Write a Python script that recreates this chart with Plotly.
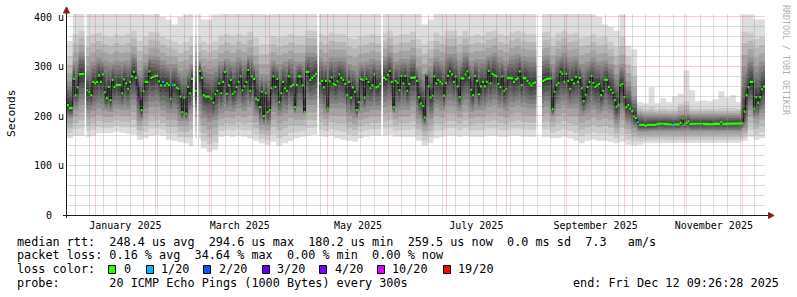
import numpy as np
import pandas as pd
import plotly.graph_objects as go

# ---------------- data ----------------
END = pd.Timestamp("2025-12-12 09:26:28")
START = END - pd.Timedelta(days=360)

# daily median rtt in microseconds (None = no data)
median_us = [
    222, 216, 216, 275, 242, 258, 284, 285, 285, None,
    252, 248, 242, 269, 266, 269, 282, 269, 284, 248,
    236, 259, 232, 273, 259, 263, 263, 263, 246, 274,
    266, 255, 269, 280, 289, 277, 260, 235, 212, 250,
    269, 269, 290, 277, 279, 281, 281, 270, 262, 269,
    262, 266, 263, 235, 263, 263, 257, 255, 239, 208,
    237, 205, 259, 246, 275, None, 251, None, 291, 277,
    242, 239, 239, 239, 235, 227, 244, 251, 266, 246,
    269, 289, 245, 262, 273, 245, 249, 259, 269, 280,
    252, 260, 269, 293, 251, 280, 275, 235, 232, 218,
    249, 200, 246, 208, 212, 256, 280, 259, 275, 228,
    246, 269, 256, 251, 280, 260, 263, 218, 263, 280,
    280, 262, 208, 289, 289, 273, 277, 281, 285, None,
    266, 271, 258, 271, 215, 270, 278, 265, 263, 270,
    284, 277, 273, 265, 243, 269, 237, 258, 249, 212,
    228, 275, 273, 237, 275, 269, 256, 262, 284, 258,
    260, 265, None, 277, 274, 283, 291, 269, 218, 271,
    267, 252, 281, 266, 281, 251, 265, 277, 278, 278,
    271, 238, 225, 220, 197, 284, 260, 237, 241, 280,
    266, 273, 269, 265, 241, 267, 281, 290, 284, 269,
    280, 260, 238, 276, 276, 284, 290, 277, 253, 242,
    281, 271, 244, 260, 269, 260, 269, 291, 266, 285,
    282, 280, 265, 259, 280, 251, 255, 277, 277, 276,
    269, 274, 276, 290, 263, 277, 276, 271, 266, 262,
    266, 268, None, None, None, 271, 273, 275, 276, 276,
    214, 249, 263, 267, 289, 285, 269, 285, 271, 255,
    273, 266, 279, 269, 277, 256, 230, 243, 259, 269,
    281, 267, 259, 262, 265, 242, 251, 274, 273, 259,
    253, 247, 232, 219, 223, 262, 265, 238, 218, 222,
    215, 210, 199, 196, 187, 182, 183, 182, 180, 182,
    183, 183, 182, 182, 184, 185, 184, 185, 184, 184,
    183, 183, 182, 183, 183, 183, 186, 195, 183, 186,
    189, 184, 184, 185, 184, 184, 184, 185, 184, 184,
    184, 183, 184, 184, 185, 184, 184, 188, 184, 184,
    185, 184, 184, 184, 184, 184, 184, 184, 185, 209,
    242, 258, 269, 269, 215, 238, 227, 238, 254, 259.5,
]

# days with packet loss, and lost pings out of 20
loss_day = [36, 37, 49, 54, 294, 312]
loss_of_20 = [3, 10, 1, 1, 1, 1]

# smoke (ping spread) per 3-day block, microseconds
smoke_min = [
    155, 160, 160, 158, 160, 165, 165, 165, 168, 166,
    164, 162, 152, 155, 160, 162, 160, 152, 150, 147,
    145, 140, 155, 135, 128, 132, 158, 160, 158, 160,
    158, 155, 150, 145, 142, 148, 140, 145, 150, 155,
    158, 160, 162, 160, 158, 160, 155, 152, 150, 148,
    155, 158, 160, 160, 160, 162, 158, 158, 158, 158,
    150, 140, 145, 155, 158, 160, 160, 158, 160, 158,
    158, 158, 160, 160, 158, 158, 160, 160, 158, 158,
    158, 158, 158, 155, 155, 158, 155, 150, 145, 150,
    152, 150, 150, 148, 145, 148, 142, 140, 142, 145,
    146, 146, 146, 146, 146, 146, 145, 146, 146, 146,
    146, 146, 146, 146, 146, 146, 150, 158, 152, 155,
]
smoke_p25 = [
    195, 212, 222, 205, 210, 215, 210, 208, 215, 212,
    212, 222, 190, 205, 218, 220, 212, 205, 205, 190,
    190, 205, 210, 195, 188, 192, 205, 210, 208, 215,
    210, 218, 200, 182, 180, 208, 200, 205, 212, 205,
    205, 222, 222, 215, 205, 215, 215, 215, 200, 195,
    205, 208, 212, 212, 218, 222, 205, 212, 212, 220,
    195, 180, 195, 215, 210, 220, 220, 210, 222, 208,
    212, 212, 218, 222, 215, 210, 218, 222, 218, 215,
    215, 215, 220, 200, 215, 222, 215, 215, 200, 205,
    212, 205, 210, 205, 185, 205, 185, 175, 168, 168,
    169, 169, 169, 169, 169, 169, 170, 169, 169, 169,
    169, 169, 169, 169, 169, 169, 175, 212, 195, 205,
]
smoke_p75 = [
    270, 310, 330, 300, 310, 318, 312, 308, 312, 310,
    312, 325, 292, 308, 322, 320, 312, 305, 305, 292,
    295, 305, 312, 300, 295, 298, 310, 315, 310, 318,
    312, 322, 305, 285, 285, 312, 305, 310, 315, 310,
    310, 328, 328, 318, 310, 318, 318, 318, 305, 300,
    308, 310, 315, 312, 320, 328, 310, 315, 315, 322,
    300, 285, 300, 318, 312, 325, 325, 312, 328, 312,
    315, 315, 322, 328, 318, 312, 322, 325, 320, 318,
    318, 320, 322, 305, 320, 328, 318, 320, 305, 310,
    318, 310, 312, 305, 285, 305, 270, 240, 205, 202,
    202, 201, 202, 201, 201, 203, 205, 202, 202, 202,
    202, 202, 202, 202, 202, 202, 300, 318, 300, 310,
]
smoke_p95 = [
    320, 365, 372, 360, 365, 368, 362, 360, 365, 362,
    365, 372, 352, 360, 370, 368, 360, 355, 350, 345,
    350, 360, 362, 350, 345, 350, 362, 365, 362, 365,
    362, 370, 358, 345, 345, 362, 358, 360, 365, 362,
    362, 372, 372, 365, 362, 368, 365, 365, 358, 355,
    360, 362, 365, 362, 368, 372, 362, 365, 365, 370,
    355, 345, 352, 368, 362, 372, 372, 362, 372, 362,
    365, 362, 370, 372, 365, 362, 368, 372, 368, 365,
    365, 368, 370, 358, 368, 372, 365, 368, 358, 360,
    365, 358, 360, 350, 340, 360, 320, 300, 218, 215,
    218, 214, 216, 214, 215, 225, 230, 215, 214, 214,
    214, 214, 216, 215, 216, 214, 370, 368, 355, 360,
]
smoke_max = [
    352, 420, 420, 415, 420, 420, 418, 415, 420, 420,
    420, 420, 412, 405, 405, 410, 400, 395, 385, 400,
    405, 410, 405, 395, 395, 405, 420, 420, 420, 420,
    420, 420, 415, 410, 405, 415, 410, 415, 420, 420,
    420, 420, 420, 420, 420, 420, 415, 415, 410, 410,
    415, 420, 420, 420, 420, 420, 420, 420, 420, 420,
    410, 385, 395, 420, 420, 420, 420, 420, 420, 420,
    420, 420, 420, 420, 420, 420, 420, 420, 420, 420,
    420, 420, 420, 420, 420, 420, 420, 420, 415, 410,
    405, 400, 385, 380, 372, 405, 342, 335, 228, 226,
    258, 226, 236, 228, 240, 245, 292, 252, 230, 232,
    230, 234, 250, 238, 242, 228, 405, 405, 395, 395,
]

loss_steps = [0, 1, 2, 3, 4, 10, 19]
loss_labels = ["0", "1/20", "2/20", "3/20", "4/20", "10/20", "19/20"]
loss_colors = ["#26ff00", "#00b8ff", "#0059ff", "#5e00ff", "#7e00ff", "#dd00ff", "#ff0000"]

y_tick_vals = [0, 100, 200, 300, 400]
y_tick_text = ["0\u00a0\u00a0", "100 u", "200 u", "300 u", "400 u"]
x_tick_months = ["2025-01", "2025-03", "2025-05", "2025-07", "2025-09", "2025-11"]
x_tick_text = ["January 2025", "March 2025", "May 2025", "July 2025",
               "September 2025", "November 2025"]

legend_line1 = "median rtt:  248.4 us avg  294.6 us max  180.2 us min  259.5 us now  0.0 ms sd  7.3   am/s"
legend_line2 = "packet loss: 0.16 % avg  34.64 % max  0.00 % min  0.00 % now"
legend_line4 = "probe:       20 ICMP Echo Pings (1000 Bytes) every 300s"
legend_end = "end: Fri Dec 12 09:26:28 2025"
legend_box_x = [108, 146, 203, 262, 319, 377, 443]
legend_lab_x = [123, 160, 218, 276, 334, 391, 457]

# ---------------- layout geometry ----------------
W, H = 797, 297
L, R, T, B = 67, 32, 14, 82
PW, PH = W - L - R, H - T - B
Y_MAX = 406.06
FONT = "DejaVu Sans Mono"
LEG_SIZE = 11.8


def px(x):
    return (x - L) / PW


def py(y):
    return (H - B - y) / PH


def tpix(ts):
    return L + (ts - START) / (END - START) * PW


def vpix(v):
    return (H - B) - v / Y_MAX * PH


# ---------------- derived drawing data ----------------
n = len(median_us)
t = [START + pd.Timedelta(days=d) for d in range(n + 1)]
med = np.array([np.nan if v is None else v for v in median_us], float)
valid = ~np.isnan(med)

loss = np.zeros(n, int)
for d, c in zip(loss_day, loss_of_20):
    loss[d] = c
col_idx = np.array([max(i for i, s in enumerate(loss_steps) if s <= c) for c in loss])

ranks = [1, 5, 10.5, 16, 19, 20]
pings = np.full((n, 20), np.nan)
for d in range(n):
    if not valid[d]:
        continue
    b = d // 3
    m = med[d]
    a25 = min(smoke_p25[b], m - 4)
    a0 = min(smoke_min[b], a25 - 4)
    a75 = max(smoke_p75[b], m + 4)
    a95 = max(smoke_p95[b], a75 + 3)
    a100 = max(smoke_max[b], a95 + 3)
    pings[d] = np.interp(np.arange(1, 21), ranks, [a0, a25, m, a75, a95, a100])
pings = np.minimum(pings, Y_MAX + 10)

runs = []
d = 0
while d < n:
    if valid[d]:
        e = d
        while e + 1 < n and valid[e + 1]:
            e += 1
        runs.append((d, e))
        d = e + 1
    else:
        d += 1


def band(lower, upper, run_list):
    xs, ys = [], []
    for a, b in run_list:
        for k in range(a, b + 1):
            xs += [t[k], t[k + 1]]
            ys += [upper[k], upper[k]]
        for k in range(b, a - 1, -1):
            xs += [t[k + 1], t[k]]
            ys += [lower[k], lower[k]]
        xs.append(None)
        ys.append(None)
    return xs, ys


fig = go.Figure()

# smoke layers (outer = light, inner = dark)
for k in range(1, 11):
    g = int(190 / 10 * (10 - k)) + 50
    xs, ys = band(pings[:, k - 1], pings[:, 20 - k], runs)
    fig.add_trace(go.Scatter(x=xs, y=ys, mode="lines", fill="toself",
                             fillcolor="#%02x%02x%02x" % (g, g, g),
                             line=dict(width=0), hoverinfo="skip", showlegend=False))

# dark connecting step line of the median
sx, sy = [], []
for a, b in runs:
    for k in range(a, b + 1):
        sx += [t[k], t[k + 1]]
        sy += [med[k], med[k]]
    sx.append(None)
    sy.append(None)
fig.add_trace(go.Scatter(x=sx, y=sy, mode="lines", line=dict(color="#1a1a1a", width=1),
                         hoverinfo="skip", showlegend=False))

# median band coloured by loss
half = 2.2
for ci, colr in enumerate(loss_colors):
    crun = []
    for a, b in runs:
        k = a
        while k <= b:
            if col_idx[k] == ci:
                e = k
                while e + 1 <= b and col_idx[e + 1] == ci:
                    e += 1
                crun.append((k, e))
                k = e + 1
            else:
                k += 1
    if not crun:
        continue
    xs, ys = band(med - half, med + half, crun)
    fig.add_trace(go.Scatter(x=xs, y=ys, mode="lines", fill="toself", fillcolor=colr,
                             line=dict(width=0), hoverinfo="skip", showlegend=False))

# ---------------- grid (drawn on top, as rrdtool does) ----------------
shapes = []
GRID = "rgba(143,143,143,0.30)"
MGRID = "rgba(222,79,79,0.27)"
month_starts = pd.date_range("2025-01-01", END, freq="MS")
month_px = [round(tpix(m) - 0.5) + 0.5 for m in month_starts]
weeks = pd.date_range(START.normalize(), END, freq="W-SUN")
for wk in weeks:
    if wk <= START:
        continue
    xp = round(tpix(wk) - 0.5) + 0.5
    if any(abs(xp - mp) < 1.5 for mp in month_px):
        continue
    shapes.append(dict(type="line", xref="paper", yref="paper", x0=px(xp), x1=px(xp),
                       y0=0, y1=1, layer="above", line=dict(color=GRID, width=1)))
for xp in month_px:
    shapes.append(dict(type="line", xref="paper", yref="paper", x0=px(xp), x1=px(xp),
                       y0=0, y1=1, layer="above", line=dict(color=MGRID, width=1)))
for v in range(20, 401, 20):
    yp = round(vpix(v) - 0.5) + 0.5
    c = MGRID if v % 100 == 0 else GRID
    shapes.append(dict(type="line", xref="paper", yref="paper", x0=0, x1=1,
                       y0=py(yp), y1=py(yp), layer="above", line=dict(color=c, width=1)))

# axes lines and arrows
AX = "#1f1f1f"
ARROW = "#802020"
shapes.append(dict(type="line", xref="paper", yref="paper", x0=px(63), x1=px(770),
                   y0=py(215.5), y1=py(215.5), layer="above", line=dict(color=AX, width=1)))
shapes.append(dict(type="line", xref="paper", yref="paper", x0=px(66.5), x1=px(66.5),
                   y0=py(218), y1=py(12), layer="above", line=dict(color=AX, width=1)))
shapes.append(dict(type="path", xref="paper", yref="paper", layer="above",
                   path="M %f %f L %f %f L %f %f Z" % (px(63.5), py(13), px(69.5), py(13), px(66.5), py(7)),
                   fillcolor=ARROW, line=dict(color=ARROW, width=1)))
shapes.append(dict(type="path", xref="paper", yref="paper", layer="above",
                   path="M %f %f L %f %f L %f %f Z" % (px(768.5), py(212.5), px(768.5), py(218.5), px(774), py(215.5)),
                   fillcolor=ARROW, line=dict(color=ARROW, width=1)))

# legend colour boxes
for bx, colr in zip(legend_box_x, loss_colors):
    shapes.append(dict(type="rect", xref="paper", yref="paper",
                       x0=px(bx + 0.5), x1=px(bx + 7.5), y0=py(273.5), y1=py(265.5),
                       fillcolor=colr, line=dict(color="#000000", width=1)))

annotations = []


def txt(s, x, y, size=LEG_SIZE, anchor="left", color="#000000", angle=0):
    annotations.append(dict(text=s.replace(" ", "\u00a0"), x=px(x), y=py(y),
                            xref="paper", yref="paper",
                            xanchor=anchor, yanchor="middle", showarrow=False,
                            textangle=angle, borderpad=0,
                            font=dict(family=FONT, size=size, color=color)))


txt(legend_line1, 16, 241.5)
txt(legend_line2, 16, 255.3)
txt("loss color:", 16, 269)
for s, x in zip(loss_labels, legend_lab_x):
    txt(s, x, 269)
txt(legend_line4, 16, 283)
txt(legend_end, 780, 283, anchor="right")
txt("Seconds", 11, 113, size=11.3, anchor="center", angle=-90)
txt("RRDTOOL / TOBI OETIKER", 786, 60, size=8.3, anchor="center", color="#b0b0b0", angle=90)

x_tick_vals = []
for m in x_tick_months:
    p = pd.Period(m, "M")
    a = p.start_time
    b = (p + 1).start_time
    x_tick_vals.append(a + (b - a) / 2)

fig.update_layout(
    width=W, height=H, margin=dict(l=L, r=R, t=T, b=B, pad=0),
    paper_bgcolor="#ffffff", plot_bgcolor="#ffffff",
    shapes=shapes, annotations=annotations, showlegend=False,
    xaxis=dict(type="date", range=[START, END], showgrid=False, zeroline=False,
               showline=False, ticks="", tickvals=x_tick_vals, ticktext=x_tick_text,
               ticklabelstandoff=3,
               tickfont=dict(family=FONT, size=10, color="#000000"), fixedrange=True),
    yaxis=dict(range=[0, Y_MAX], showgrid=False, zeroline=False, showline=False,
               ticks="", tickvals=y_tick_vals, ticktext=y_tick_text,
               ticklabelstandoff=2,
               tickfont=dict(family=FONT, size=10, color="#000000"), fixedrange=True),
)

fig.write_html("out.html")
